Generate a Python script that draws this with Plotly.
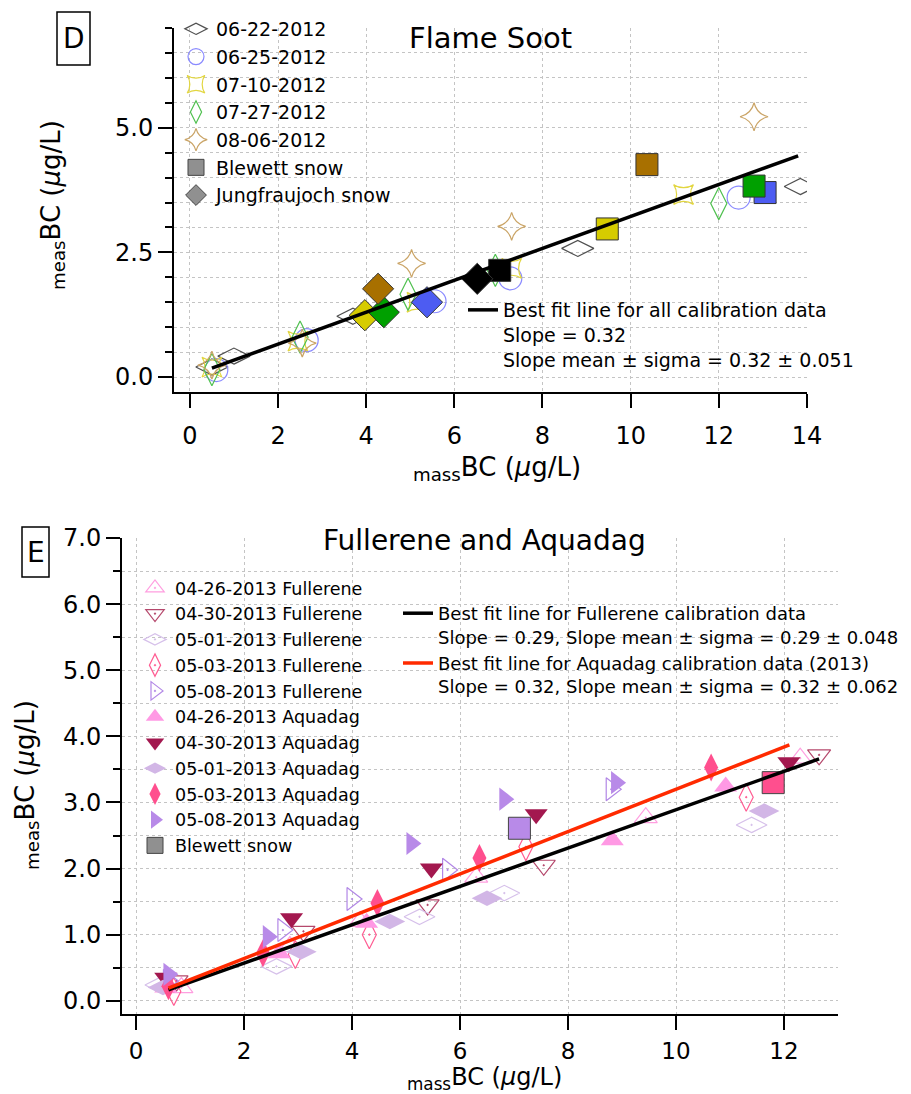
import numpy as np
import plotly.graph_objects as go

FONT = "DejaVu Sans"
W, H = 911, 1094

# ---------------- Panel D: flame soot (2012) ----------------
dates_2012 = ["06-22-2012", "06-25-2012", "07-10-2012", "07-27-2012", "08-06-2012"]

x_0622 = [0.5, 1.0, 3.7, 8.8, 13.85]
y_0622 = [0.2, 0.42, 1.22, 2.58, 3.82]
x_0625 = [0.6, 2.65, 5.55, 7.27, 12.45]
y_0625 = [0.14, 0.74, 1.52, 1.98, 3.6]
x_0710 = [0.5, 2.45, 5.15, 7.3, 11.2]
y_0710 = [0.2, 0.72, 1.5, 2.18, 3.66]
x_0727 = [0.5, 2.5, 4.95, 6.93, 12.0]
y_0727 = [0.15, 0.8, 1.66, 2.14, 3.48]
x_0806 = [0.5, 2.55, 5.03, 7.3, 12.8]
y_0806 = [0.24, 0.68, 2.28, 3.02, 5.22]

# snow samples, one per calibration date (same order as dates_2012)
blewett_x_2012 = [7.03, 13.05, 9.47, 12.8, 10.37]
blewett_y_2012 = [2.14, 3.7, 2.97, 3.83, 4.26]
jungfrau_x_2012 = [6.52, 5.38, 3.97, 4.4, 4.27]
jungfrau_y_2012 = [1.97, 1.5, 1.24, 1.3, 1.77]

fit_all_slope = 0.32
fit_all_intercept = 0.02
fit_all_xrange = [0.5, 13.8]

# ---------------- Panel E: fullerene and aquadag (2013) ----------------
dates_2013 = ["04-26-2013", "04-30-2013", "05-01-2013", "05-03-2013", "05-08-2013"]

ful_x = {
    "04-26-2013": [0.84, 2.85, 4.15, 6.3, 9.44, 12.3],
    "04-30-2013": [0.75, 3.1, 5.4, 7.55, 12.65],
    "05-01-2013": [0.45, 2.6, 5.25, 6.82, 11.4],
    "05-03-2013": [0.7, 2.95, 4.32, 7.22, 11.3],
    "05-08-2013": [0.6, 2.72, 4.0, 5.77, 8.8],
}
ful_y = {
    "04-26-2013": [0.2, 0.82, 1.2, 1.87, 2.77, 3.67],
    "04-30-2013": [0.3, 1.05, 1.45, 2.05, 3.72],
    "05-01-2013": [0.24, 0.52, 1.27, 1.63, 2.66],
    "05-03-2013": [0.14, 0.7, 1.0, 2.33, 3.08],
    "05-08-2013": [0.3, 1.07, 1.54, 1.98, 3.2],
}
aqua_x = {
    "04-26-2013": [0.55, 2.65, 4.27, 8.82, 10.92],
    "04-30-2013": [0.55, 2.88, 5.47, 7.41, 12.09],
    "05-01-2013": [0.5, 3.06, 4.7, 6.5, 11.63],
    "05-03-2013": [0.6, 2.35, 4.47, 6.36, 10.65],
    "05-08-2013": [0.6, 2.44, 5.1, 6.82, 8.89],
}
aqua_y = {
    "04-26-2013": [0.2, 0.72, 1.18, 2.43, 3.24],
    "04-30-2013": [0.35, 1.25, 2.0, 2.82, 3.61],
    "05-01-2013": [0.2, 0.74, 1.2, 1.55, 2.87],
    "05-03-2013": [0.22, 0.72, 1.48, 2.16, 3.53],
    "05-08-2013": [0.4, 0.97, 2.38, 3.05, 3.3],
}
blewett_dates_2013 = ["05-08-2013", "05-03-2013"]
blewett_x_2013 = [7.1, 11.8]
blewett_y_2013 = [2.61, 3.3]

fit_ful_slope = 0.29
fit_ful_intercept = -0.01
fit_ful_xrange = [0.6, 12.65]
fit_aqua_slope = 0.32
fit_aqua_intercept = 0.0
fit_aqua_xrange = [0.6, 12.1]

# ---------------- styles ----------------
style_2012 = {
    "06-22-2012": dict(sym="diamond-wide-open", open="#505050", fill="#000000", size=23),
    "06-25-2012": dict(sym="circle-open", open="#8a8aff", fill="#4d5cf2", size=23),
    "07-10-2012": dict(sym="star-square-open", open="#e2d640", fill="#d6cc00", size=18),
    "07-27-2012": dict(sym="diamond-tall-open", open="#4fc04f", fill="#00a000", size=23),
    "08-06-2012": dict(sym="star-diamond-open", open="#caa466", fill="#a87000", size=20),
}
data_2012 = {
    "06-22-2012": (x_0622, y_0622),
    "06-25-2012": (x_0625, y_0625),
    "07-10-2012": (x_0710, y_0710),
    "07-27-2012": (x_0727, y_0727),
    "08-06-2012": (x_0806, y_0806),
}
style_2013 = {
    "04-26-2013": dict(sym="triangle-up", open="#ff9ee0", fill="#ff99e4", size=20),
    "04-30-2013": dict(sym="triangle-down", open="#b5486c", fill="#a3184f", size=20),
    "05-01-2013": dict(sym="diamond-wide", open="#d6c0ea", fill="#d2b6e6", size=22),
    "05-03-2013": dict(sym="diamond-tall", open="#ff5c92", fill="#ff4f8e", size=20),
    "05-08-2013": dict(sym="triangle-right", open="#b287e6", fill="#b88ae8", size=20),
}

fig = go.Figure()

# open calibration markers, panel D
for d in dates_2012:
    st = style_2012[d]
    xs, ys = data_2012[d]
    fig.add_trace(go.Scatter(
        x=xs, y=ys, mode="markers", name=d, legend="legend",
        marker=dict(symbol=st["sym"], size=st["size"], color=st["open"],
                    line=dict(width=1.2, color=st["open"])),
        xaxis="x", yaxis="y"))

# snow samples, coloured by calibration date
fig.add_trace(go.Scatter(
    x=blewett_x_2012, y=blewett_y_2012, mode="markers", showlegend=False,
    marker=dict(symbol="square", size=22,
                color=[style_2012[d]["fill"] for d in dates_2012],
                line=dict(width=1, color="#333333")),
    xaxis="x", yaxis="y"))
fig.add_trace(go.Scatter(
    x=jungfrau_x_2012, y=jungfrau_y_2012, mode="markers", showlegend=False,
    marker=dict(symbol="diamond", size=24,
                color=[style_2012[d]["fill"] for d in dates_2012],
                line=dict(width=1, color="#333333")),
    xaxis="x", yaxis="y"))
# legend keys for the snow samples
for nm, sym, sz in [("Blewett snow", "square", 16), ("Jungfraujoch snow", "diamond", 16)]:
    fig.add_trace(go.Scatter(
        x=[None], y=[None], mode="markers", name=nm, legend="legend",
        marker=dict(symbol=sym, size=sz, color="#909090", line=dict(width=1, color="#444444")),
        xaxis="x", yaxis="y"))

fx = np.array(fit_all_xrange)
fig.add_trace(go.Scatter(
    x=fx, y=fit_all_slope * fx + fit_all_intercept, mode="lines",
    name=("Best fit line for all calibration data<br>Slope = %.2f<br>"
          "Slope mean \u00b1 sigma = 0.32 \u00b1 0.051" % fit_all_slope),
    legend="legend2", line=dict(color="black", width=3.5),
    xaxis="x", yaxis="y"))

# panel E: fullerene (open) then aquadag (filled)
for d in dates_2013:
    st = style_2013[d]
    fig.add_trace(go.Scatter(
        x=ful_x[d], y=ful_y[d], mode="markers", name=d + " Fullerene", legend="legend3",
        marker=dict(symbol=st["sym"] + "-open-dot", size=st["size"], color=st["open"],
                    line=dict(width=1.2, color=st["open"])),
        xaxis="x2", yaxis="y2"))
for d in dates_2013:
    st = style_2013[d]
    fig.add_trace(go.Scatter(
        x=aqua_x[d], y=aqua_y[d], mode="markers", name=d + " Aquadag", legend="legend3",
        marker=dict(symbol=st["sym"], size=st["size"], color=st["fill"], line=dict(width=0)),
        xaxis="x2", yaxis="y2"))
fig.add_trace(go.Scatter(
    x=blewett_x_2013, y=blewett_y_2013, mode="markers", showlegend=False,
    marker=dict(symbol="square", size=22,
                color=[style_2013[d]["fill"] for d in blewett_dates_2013],
                line=dict(width=1, color="#444444")),
    xaxis="x2", yaxis="y2"))
fig.add_trace(go.Scatter(
    x=[None], y=[None], mode="markers", name="Blewett snow", legend="legend3",
    marker=dict(symbol="square", size=16, color="#909090", line=dict(width=1, color="#444444")),
    xaxis="x2", yaxis="y2"))

fxf = np.array(fit_ful_xrange)
fig.add_trace(go.Scatter(
    x=fxf, y=fit_ful_slope * fxf + fit_ful_intercept, mode="lines",
    name=("Best fit line for Fullerene calibration data<br>"
          "Slope = %.2f, Slope mean \u00b1 sigma = 0.29 \u00b1 0.048" % fit_ful_slope),
    legend="legend4", line=dict(color="black", width=3.5),
    xaxis="x2", yaxis="y2"))
fxa = np.array(fit_aqua_xrange)
fig.add_trace(go.Scatter(
    x=fxa, y=fit_aqua_slope * fxa + fit_aqua_intercept, mode="lines",
    name=("Best fit line for Aquadag calibration data (2013)<br>"
          "Slope = %.2f, Slope mean \u00b1 sigma = 0.32 \u00b1 0.062" % fit_aqua_slope),
    legend="legend4", line=dict(color="#ff2a00", width=3.5),
    xaxis="x2", yaxis="y2"))

GRID = "#c4c4c4"


def axis_common(size, standoff):
    return dict(
        showline=True, linecolor="black", linewidth=2, mirror=False,
        ticks="outside", ticklen=14, tickwidth=2, tickcolor="black",
        showgrid=True, gridcolor=GRID, griddash="dot", gridwidth=1,
        zeroline=False, automargin=False, ticklabelstandoff=standoff,
        tickfont=dict(family=FONT, size=size, color="black"),
    )


def px_x(p):
    return p / W


def px_y(p):
    return 1 - p / H


layout = dict(
    width=W, height=H, autosize=False,
    margin=dict(l=0, r=0, t=0, b=0),
    paper_bgcolor="white", plot_bgcolor="white",
    font=dict(family=FONT, color="black"),
    xaxis=dict(axis_common(24, 7), domain=[px_x(174), px_x(807)], range=[-0.36, 14.001],
               dtick=2, tick0=0, anchor="y"),
    yaxis=dict(axis_common(24, 0), domain=[px_y(392), px_y(28)], range=[-0.3, 7.0],
               dtick=2.5, tick0=0, tickformat=".1f", anchor="x",
               minor=dict(dtick=0.5, tick0=0, ticks="outside", ticklen=7, tickwidth=1.5,
                          tickcolor="black", showgrid=True, gridcolor=GRID, griddash="dot")),
    xaxis2=dict(axis_common(23, 1), domain=[px_x(122), px_x(838)], range=[-0.26, 13.0],
                dtick=2, tick0=0, anchor="y2"),
    yaxis2=dict(axis_common(24, 0), domain=[px_y(1014), px_y(538)], range=[-0.2, 7.001],
                dtick=1, tick0=0, tickformat=".1f", anchor="x2",
                minor=dict(dtick=0.5, tick0=0, ticks="outside", ticklen=7, tickwidth=1.5,
                           tickcolor="black", showgrid=True, gridcolor=GRID, griddash="dot")),
    legend=dict(x=px_x(176), y=px_y(10), xanchor="left", yanchor="top",
                bgcolor="rgba(0,0,0,0)", font=dict(family=FONT, size=19, color="black"),
                itemsizing="trace"),
    legend2=dict(x=px_x(463), y=px_y(291), xanchor="left", yanchor="top",
                 bgcolor="rgba(0,0,0,0)", font=dict(family=FONT, size=19, color="black"),
                 valign="top"),
    legend3=dict(x=px_x(135), y=px_y(570), xanchor="left", yanchor="top",
                 bgcolor="rgba(0,0,0,0)", font=dict(family=FONT, size=17.5, color="black"),
                 itemsizing="trace"),
    legend4=dict(x=px_x(398), y=px_y(595), xanchor="left", yanchor="top",
                 bgcolor="rgba(0,0,0,0)", font=dict(family=FONT, size=18, color="black"),
                 valign="top"),
)
fig.update_layout(**layout)


def label(text, x, y, size, angle=0):
    return dict(text=text, x=px_x(x), y=px_y(y), xref="paper", yref="paper",
                xanchor="center", yanchor="middle", textangle=angle, showarrow=False,
                font=dict(family=FONT, size=size, color="black"))


ytitle = "<sub>meas</sub>BC (<i>\u03bc</i>g/L)"
xtitle = "<sub>mass</sub>BC (<i>\u03bc</i>g/L)"
fig.update_layout(annotations=[
    label("Flame Soot", 490, 38, 29),
    label("Fullerene and Aquadag", 485, 541, 28),
    label("D", 73.5, 39, 28),
    label("E", 35.5, 552, 28),
    label(ytitle, 52, 205, 26, -90),
    label(xtitle, 497, 468, 26),
    label(ytitle, 26, 785, 26, -90),
    label(xtitle, 485, 1078, 24),
])

fig.update_layout(shapes=[
    dict(type="rect", xref="paper", yref="paper", x0=px_x(57), x1=px_x(90),
         y0=px_y(65), y1=px_y(12), line=dict(color="black", width=1.5)),
    dict(type="rect", xref="paper", yref="paper", x0=px_x(22), x1=px_x(49),
         y0=px_y(577), y1=px_y(527), line=dict(color="black", width=1.5)),
])

fig.write_html("out.html")
